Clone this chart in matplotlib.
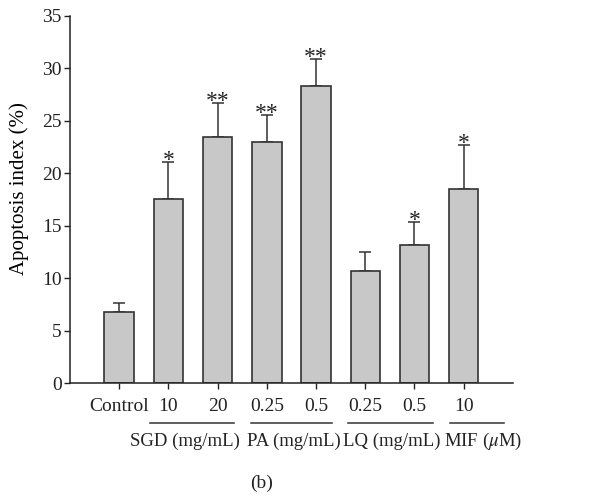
import matplotlib.pyplot as plt
import matplotlib.transforms as mtransforms

plt.rcParams['font.family'] = ['Liberation Serif', 'DejaVu Serif']
plt.rcParams['mathtext.fontset'] = 'stix'

# Data
tick_labels = ["Control", "10", "20", "0.25", "0.5", "0.25", "0.5", "10"]
means = [6.8, 17.5, 23.5, 23.0, 28.3, 10.7, 13.2, 18.5]
errors = [0.8, 3.6, 3.2, 2.6, 2.6, 1.8, 2.2, 4.2]
stars = ["", "*", "**", "**", "**", "", "*", "*"]
group_names = ["SGD (mg/mL)", "PA (mg/mL)", "LQ (mg/mL)", "MIF ($\\mu$M)"]
group_members = [[1, 2], [3, 4], [5, 6], [7]]

# layout of the group underlines / names (x in bar units)
line_spans = [(0.63, 2.33), (2.67, 4.33), (4.65, 6.38), (6.72, 7.81)]
name_centers = [1.33, 3.54, 5.53, 7.39]

x = list(range(len(means)))

fig = plt.figure(figsize=(6.02, 4.98), dpi=100)
ax = fig.add_axes([0.1163, 0.2309, 0.852 - 0.1163, 0.9679 - 0.2309])

ax.bar(x, means, width=0.6, color="#c8c8c8", edgecolor="#333333",
       linewidth=1.2, zorder=2)
ax.errorbar(x, means, yerr=[[0] * len(errors), errors], fmt="none",
            ecolor="#333333", elinewidth=1.1, capsize=4, capthick=1.1,
            zorder=1)

for xi, m, e, s in zip(x, means, errors, stars):
    if s:
        ax.annotate(s, (xi, m + e), xytext=(0, -3), textcoords="offset points",
                    ha="center", va="baseline", fontsize=17, color="#222222")

ax.set_xlim(-1, 8)
ax.set_ylim(0, 35)
ax.set_yticks(range(0, 36, 5))
ax.set_xticks(x)
ax.set_xticklabels(tick_labels)
ax.tick_params(axis="both", direction="out", length=4, width=1,
               labelsize=14, colors="#222222")
ax.tick_params(axis="x", pad=7)
ax.tick_params(axis="y", pad=2)
ax.set_ylabel("Apoptosis index (%)", fontsize=15)
ax.yaxis.set_label_coords(-(70 - 29) / 443, (383 - 189) / 367)

for side in ["top", "right"]:
    ax.spines[side].set_visible(False)
for side in ["left", "bottom"]:
    ax.spines[side].set_linewidth(1.1)
    ax.spines[side].set_color("#222222")

# group underlines and names below the tick labels
trans = mtransforms.blended_transform_factory(ax.transData, fig.transFigure)
line_y = 1 - 422.5 / 498
name_y = 1 - 441 / 498
for name, (start, end), center in zip(group_names, line_spans, name_centers):
    line = plt.Line2D([start, end], [line_y, line_y], transform=trans,
                      color="#333333", linewidth=1.1)
    fig.add_artist(line)
    fig.text(center, name_y, name, transform=trans, ha="center",
             va="center", fontsize=13.5, color="#222222")

fig.text(262 / 602, 1 - 483 / 498, "(b)", ha="center", va="center",
         fontsize=14, color="#222222")

fig.savefig("out.png", dpi=100)
